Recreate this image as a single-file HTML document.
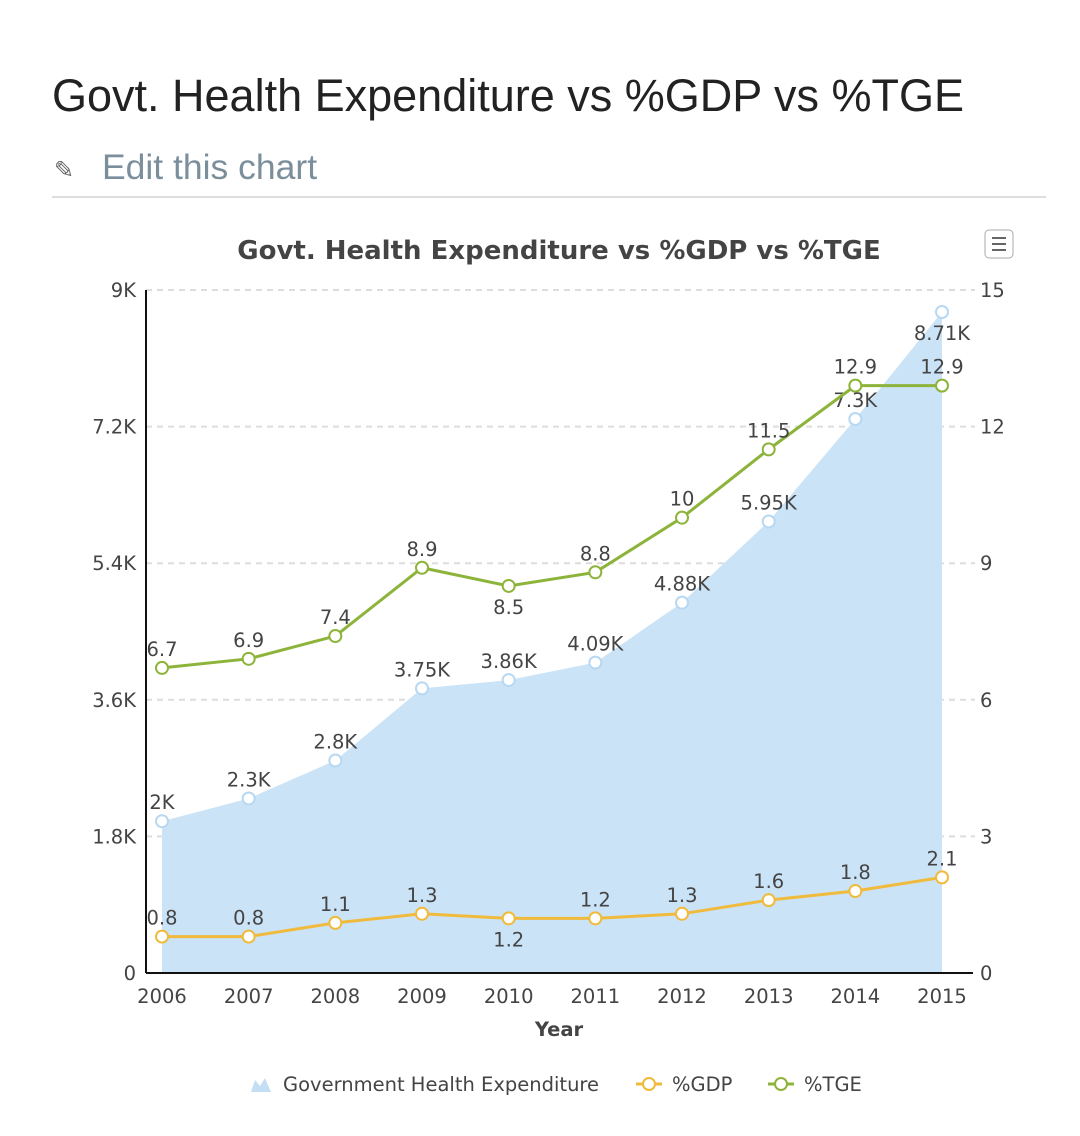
<!DOCTYPE html>
<html><head><meta charset="utf-8"><style>
body{margin:0;width:1080px;height:1136px;background:#fff;font-family:"Liberation Sans",sans-serif;position:relative;overflow:hidden}
#title{position:absolute;left:52px;top:70px;font-size:45px;color:#222;margin:0;font-weight:normal}
#edit{position:absolute;left:102px;top:147px;font-size:35.5px;color:#7b8e9b}
#pen{position:absolute;left:54px;top:156px;font-size:24px;color:#666}
#rule{position:absolute;left:52px;top:196px;width:994px;height:2px;background:#ddd}
svg{position:absolute;left:0;top:0}
</style></head><body>
<h1 id="title">Govt. Health Expenditure vs %GDP vs %TGE</h1>
<div id="pen">✎</div>
<div id="edit">Edit this chart</div>
<div id="rule"></div>
<svg id="chart" width="1080" height="1136"></svg>
<script>
const years=['2006','2007','2008','2009','2010','2011','2012','2013','2014','2015'];
const ghe=[2000,2300,2800,3750,3860,4090,4880,5950,7300,8710];
const gheLabels=['2K','2.3K','2.8K','3.75K','3.86K','4.09K','4.88K','5.95K','7.3K','8.71K'];
const gdp=[0.8,0.8,1.1,1.3,1.2,1.2,1.3,1.6,1.8,2.1];
const tge=[6.7,6.9,7.4,8.9,8.5,8.8,10,11.5,12.9,12.9];
const leftTicks=[0,1800,3600,5400,7200,9000];
const leftTickLabels=['0','1.8K','3.6K','5.4K','7.2K','9K'];
const rightTicks=[0,3,6,9,12,15];

const NS='http://www.w3.org/2000/svg';
const svg=document.getElementById('chart');
const X0=162,X1=942,YB=973,YT=290;
const x=i=>X0+(X1-X0)*i/(years.length-1);
const yL=v=>YB-(YB-YT)*v/9000;
const yR=v=>YB-(YB-YT)*v/15;
function el(t,a,txt){const e=document.createElementNS(NS,t);for(const k in a)e.setAttribute(k,a[k]);if(txt!==undefined)e.textContent=txt;svg.appendChild(e);return e;}
const F='"DejaVu Sans",sans-serif';
const FS=19.5;

let t=el('text',{x:559,y:259,'text-anchor':'middle','font-size':26,'font-weight':'bold',fill:'#444','font-family':F},'Govt. Health Expenditure vs %GDP vs %TGE');


let m=el('rect',{x:985,y:230,width:28,height:28,rx:4,fill:'#fff',stroke:'#aaa'});


[238,244,250].forEach(yy=>el('line',{x1:992,x2:1006,y1:yy,y2:yy,stroke:'#666','stroke-width':2}));

leftTicks.forEach((v,i)=>{
 if(v>0){let g=el('line',{x1:146,x2:975,y1:yL(v),y2:yL(v),stroke:'#ddd','stroke-width':2,'stroke-dasharray':'6,5'});
 
 }
 let l=el('text',{x:136,y:yL(v)+7,'text-anchor':'end','font-size':FS,fill:'#444','font-family':F},leftTickLabels[i]);
 
 
});
rightTicks.forEach(v=>{
 let l=el('text',{x:980,y:yR(v)+7,'font-size':FS,fill:'#444','font-family':F},String(v));
 
 
});

let d='M'+x(0)+','+YB;ghe.forEach((v,i)=>d+=' L'+x(i)+','+yL(v));d+=' L'+x(ghe.length-1)+','+YB+' Z';
let a=el('path',{d:d,fill:'#cbe3f6'});



el('line',{x1:146,x2:146,y1:YT,y2:YB,stroke:'#111','stroke-width':2});
el('line',{x1:146,x2:973,y1:YB,y2:YB,stroke:'#111','stroke-width':2});
years.forEach((yr,i)=>{
 let l=el('text',{x:x(i),y:1003,'text-anchor':'middle','font-size':FS,fill:'#444','font-family':F},yr);
 
 
});
let xt=el('text',{x:559,y:1036,'text-anchor':'middle','font-size':FS,'font-weight':'bold',fill:'#444','font-family':F},'Year');



ghe.forEach((v,i)=>{
 let c=el('circle',{cx:x(i),cy:yL(v),r:6,fill:'#fff',stroke:'#b7d8f2','stroke-width':2});
 
 
 let l=el('text',{x:x(i),y:yL(v)-(i==9?-28:12),'text-anchor':'middle','font-size':FS,fill:'#444','font-family':F},gheLabels[i]);
 
 
});
function series(vals,color,name,below){
 let p=el('polyline',{points:vals.map((v,i)=>x(i)+','+yR(v)).join(' '),fill:'none',stroke:color,'stroke-width':3});
 
 
 vals.forEach((v,i)=>{
  let c=el('circle',{cx:x(i),cy:yR(v),r:6,fill:'#fff',stroke:color,'stroke-width':2});
  
  
  let dn=below.includes(i);
  let l=el('text',{x:x(i),y:yR(v)+(dn?28:-12),'text-anchor':'middle','font-size':FS,fill:'#444','font-family':F},String(v));
  
  
 });
}
series(gdp,'#f0ba3c','gdp',[4]);
series(tge,'#8db43a','tge',[4]);

let lg=el('path',{d:'M251,1092 L255,1080 L260,1086 L265,1078 L271,1092 Z',fill:'#c4dff4'});


let l1=el('text',{x:283,y:1091,'font-size':FS,fill:'#444','font-family':F},'Government Health Expenditure');


[[636,'#f0ba3c','%GDP','legend-gdp'],[768,'#8db43a','%TGE','legend-tge']].forEach(([lx,c,txt,n])=>{
 el('line',{x1:lx,x2:lx+26,y1:1084,y2:1084,stroke:c,'stroke-width':3});
 el('circle',{cx:lx+13,cy:1084,r:6,fill:'#fff',stroke:c,'stroke-width':2});
 let tt=el('text',{x:lx+36,y:1091,'font-size':FS,fill:'#444','font-family':F},txt);
 
 
});
</script>
</body></html>
